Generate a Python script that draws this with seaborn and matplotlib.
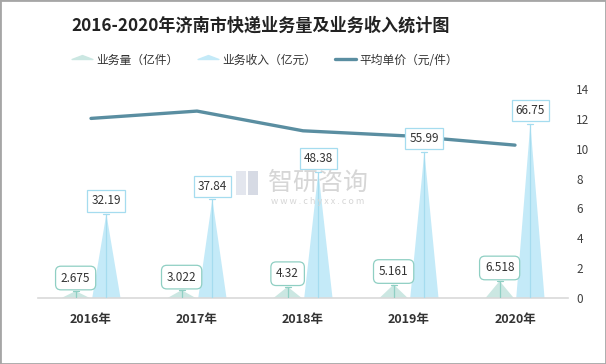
import numpy as np
import pandas as pd
import seaborn as sns
import matplotlib.pyplot as plt
from matplotlib.lines import Line2D
from matplotlib.path import Path
from matplotlib.patches import Polygon, Rectangle

years = ["2016年", "2017年", "2018年", "2019年", "2020年"]
volume = [2.675, 3.022, 4.32, 5.161, 6.518]
revenue = [32.19, 37.84, 48.38, 55.99, 66.75]
price = [12.03, 12.52, 11.20, 10.85, 10.24]
vol_labels = ["2.675", "3.022", "4.32", "5.161", "6.518"]
rev_labels = ["32.19", "37.84", "48.38", "55.99", "66.75"]
series = ["业务量（亿件）", "业务收入（亿元）"]
price_name = "平均单价（元/件）"

colors = {series[0]: "#cbe7e2", series[1]: "#c4eaf8"}
edges = {series[0]: "#8fcfc3", series[1]: "#a5dcef"}
line_color = "#5a8ea1"

df = pd.DataFrame({
    "year": years * 2,
    "value": volume + revenue,
    "series": [series[0]] * len(years) + [series[1]] * len(years),
})
labels = {series[0]: vol_labels, series[1]: rev_labels}

sns.set_style("white")
plt.rcParams["font.family"] = ["Noto Sans CJK SC", "DejaVu Sans"]

fig = plt.figure(figsize=(6.06, 3.64), dpi=100)
ax = fig.add_axes([0.0627, 0.1813, 0.8746, 0.5742])

# Bars from seaborn, then reshaped into triangles.
sns.barplot(data=df, x="year", y="value", hue="series", hue_order=series,
            order=years, width=0.58, palette=colors, legend=False, ax=ax)

ax2 = ax.twinx()
sns.lineplot(x=np.arange(len(years)), y=price, color=line_color, lw=2.4,
             ax=ax2, zorder=3)

cap = 0.028
bars = list(ax.patches)
for i, bar in enumerate(bars):
    s = series[i // len(years)]
    x0, w, h = bar.get_x(), bar.get_width(), bar.get_height()
    xc = x0 + w / 2
    bw = w * 0.92
    ax.add_patch(Polygon([(xc - bw / 2, 0), (xc, h), (xc + bw / 2, 0)],
                         closed=True, facecolor=colors[s], edgecolor="none",
                         zorder=2))
    bar.remove()
    ax.plot([xc, xc], [0, h], color=edges[s], lw=0.9, zorder=3)
    ax.plot([xc - cap, xc + cap], [h, h], color=edges[s], lw=0.9, zorder=3)
    style = "round,pad=0.45" if s == series[0] else "square,pad=0.35"
    ax2.annotate(labels[s][i % len(years)], xy=(xc, h), xycoords=ax.transData,
                 xytext=(0, 13), textcoords="offset pixels", ha="center",
                 va="center", fontsize=8.5, color="#333333", zorder=5,
                 bbox=dict(boxstyle=style, fc="white", ec=edges[s], lw=0.9))

ax.set_xlim(-0.5, len(years) - 0.5)
ax.set_ylim(0, 80)
ax.set_yticks([])
ax.set_xlabel("")
ax.set_ylabel("")
ax.tick_params(axis="x", length=0, pad=11)
for lab in ax.get_xticklabels():
    lab.set_fontweight("bold")
    lab.set_fontsize(9)
    lab.set_color("#333333")

ax2.set_ylim(0, 14)
ax2.set_yticks(range(0, 15, 2))
ax2.tick_params(axis="y", length=0, pad=6, labelsize=8.5, labelcolor="#404040")
ax2.set_ylabel("")
for sp in ["top", "left", "right"]:
    ax.spines[sp].set_visible(False)
for sp in ax2.spines.values():
    sp.set_visible(False)
ax.spines["bottom"].set_color("#d9d9d9")
ax.spines["bottom"].set_linewidth(1.2)

# Legend.
tri = Path([(-1, 0), (1, 0), (0, 0.38), (-1, 0)],
           [Path.MOVETO, Path.LINETO, Path.LINETO, Path.CLOSEPOLY])
handles = [
    Line2D([], [], ls="none", marker=tri, markersize=15, color=colors[series[0]]),
    Line2D([], [], ls="none", marker=tri, markersize=15, color=colors[series[1]]),
    Line2D([], [], color=line_color, lw=2.4),
]
fig.legend(handles, series + [price_name], loc="center",
           bbox_to_anchor=(0.437, 0.835), ncol=3, frameon=False, fontsize=8.5,
           columnspacing=1.6, handlelength=1.8, handletextpad=0.3,
           labelcolor="#333333")

fig.text(0.43, 0.93, "2016-2020年济南市快递业务量及业务收入统计图",
         ha="center", va="center", fontsize=12.3, fontweight="bold",
         color="#222222")

# Watermark.
fig.text(0.525, 0.497, "智研咨询", ha="center", va="center", fontsize=18,
         color="#d6d6d6", zorder=0)
fig.text(0.525, 0.447, "w w w . c h y x x . c o m", ha="center", va="center",
         fontsize=6.5, color="#d6d6d6", zorder=0)
fig.patches.append(Rectangle((0.39, 0.465), 0.016, 0.065, transform=fig.transFigure,
                             fc="#e3e6ee", ec="none", zorder=0))
fig.patches.append(Rectangle((0.41, 0.465), 0.016, 0.065, transform=fig.transFigure,
                             fc="#d6dae4", ec="none", zorder=0))

fig.patches.append(Rectangle((0, 0), 1, 1, transform=fig.transFigure,
                             fill=False, ec="#a6a6a6", lw=2))

fig.savefig("out.png", dpi=100)
